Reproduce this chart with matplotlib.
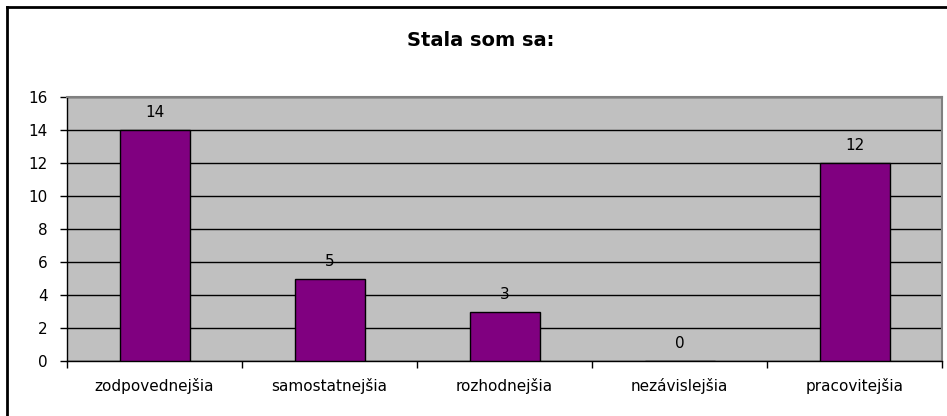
import matplotlib
matplotlib.use("Agg")
import matplotlib.pyplot as plt
from matplotlib.lines import Line2D

categories = ["zodpovednejšia", "samostatnejšia", "rozhodnejšia", "nezávislejšia", "pracovitejšia"]
values = [14, 5, 3, 0, 12]
yticks = [0, 2, 4, 6, 8, 10, 12, 14, 16]
title = "Stala som sa:"

plt.rcParams['font.family'] = ['DejaVu Sans']

fig = plt.figure(figsize=(9.47, 4.16), dpi=100)
ax = fig.add_axes([67/947, 1-361/416, (942-67)/947, (361-97)/416])
ax.set_facecolor('#C0C0C0')

x = list(range(len(categories)))
ax.bar(x, values, width=0.4, color='#800080', edgecolor='black', linewidth=1, zorder=3)
for xi, v in zip(x, values):
    ax.annotate(str(v), (xi, v), xytext=(0, 7), textcoords='offset points',
                ha='center', va='bottom', fontsize=11, color='black')

ax.set_xlim(-0.5, len(categories)-0.5)
ax.set_ylim(0, 16)
ax.set_yticks(yticks)
ax.set_yticklabels([str(t) for t in yticks], fontsize=11)
ax.yaxis.grid(True, color='black', linewidth=1, zorder=1)
ax.set_axisbelow(True)

ax.set_xticks(x)
ax.set_xticklabels(categories, fontsize=11)
ax.tick_params(axis='x', length=0, pad=12)
ax.set_xticks([i + 0.5 for i in range(-1, len(categories))], minor=True)
ax.tick_params(axis='x', which='minor', length=5, width=1, direction='out')
ax.tick_params(axis='y', length=5, width=1, direction='out', pad=9)

for s in ['top', 'right']:
    ax.spines[s].set_color('#808080')
    ax.spines[s].set_linewidth(1.5)
for s in ['left', 'bottom']:
    ax.spines[s].set_color('black')
    ax.spines[s].set_linewidth(1)

fig.text(481/947, 1-40/416, title, ha='center', va='center', fontsize=14, fontweight='bold')

# outer chart border (top and left visible)
fig.add_artist(Line2D([6.5/947, 6.5/947], [0, 1-7/416], color='black', linewidth=2, transform=fig.transFigure))
fig.add_artist(Line2D([6.5/947, 1], [1-7/416, 1-7/416], color='black', linewidth=2, transform=fig.transFigure))

fig.savefig('out.png', dpi=100)
